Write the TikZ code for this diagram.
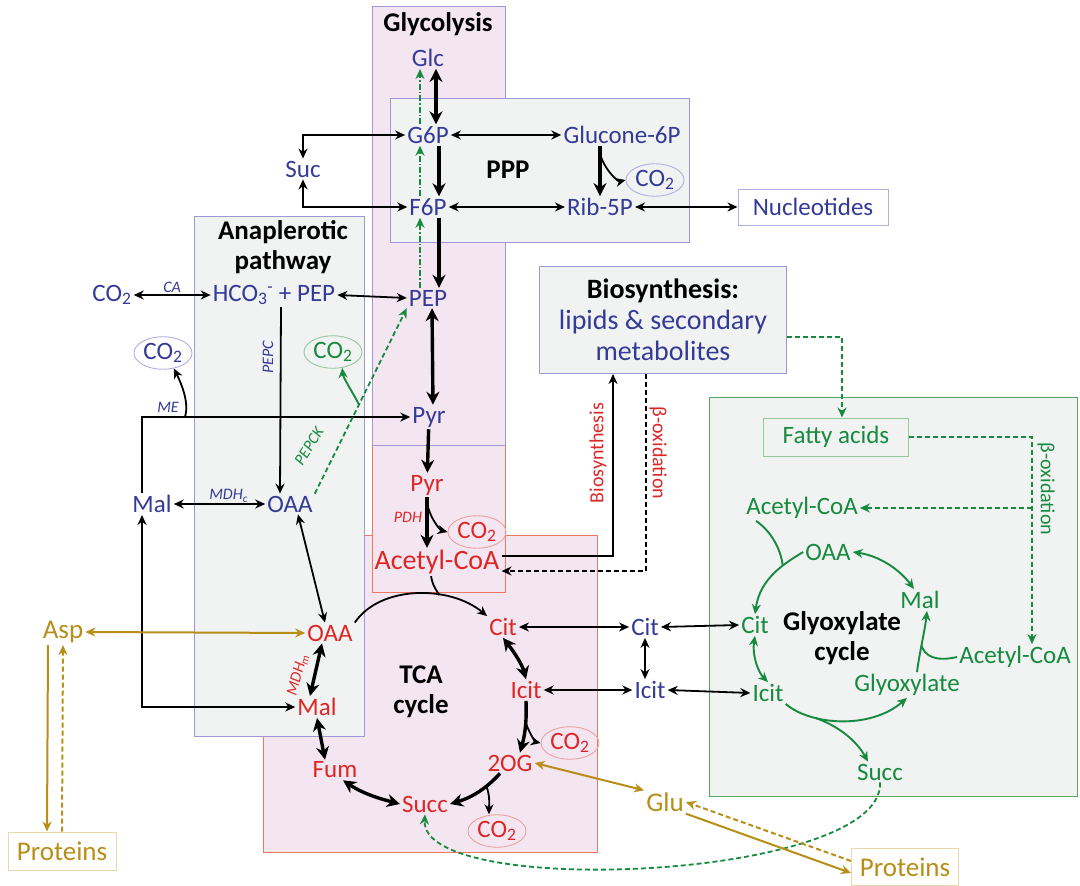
\documentclass[tikz,border=0pt]{standalone}
\usepackage{fontspec}
\setmainfont{Carlito}
\usepackage{tikz}
\usetikzlibrary{arrows.meta,shapes.geometric}

\definecolor{metblue}{RGB}{52,58,150}
\definecolor{metred}{RGB}{222,38,38}
\definecolor{metgreen}{RGB}{22,138,62}
\definecolor{metgold}{RGB}{184,142,24}
\definecolor{pinkfill}{RGB}{243,230,241}
\definecolor{greyfill}{RGB}{241,242,242}
\definecolor{purpline}{RGB}{160,150,215}
\definecolor{redline}{RGB}{236,120,100}
\definecolor{greenline}{RGB}{90,165,95}
\definecolor{lblue}{RGB}{175,175,225}
\definecolor{lgreen}{RGB}{150,200,160}
\definecolor{lred}{RGB}{240,160,160}
\definecolor{protline}{RGB}{235,215,170}

\begin{document}
\begin{tikzpicture}[%
    x=1pt, y=-1pt,
    >={Stealth[length=10pt,width=9pt]},
    met/.style={font=\fontsize{25}{29}\selectfont, inner sep=2pt},
    bm/.style={met, text=metblue},
    rm/.style={met, text=metred},
    gm/.style={met, text=metgreen},
    om/.style={met, text=metgold, font=\fontsize{27}{31}\selectfont},
    ttl/.style={font=\bfseries\fontsize{27}{30}\selectfont, align=center},
    enz/.style={font=\itshape\fontsize{16}{18}\selectfont, inner sep=1pt},
    vlab/.style={font=\fontsize{20}{22}\selectfont, inner sep=1pt},
    gas/.style={ellipse, draw, line width=0.9pt, inner xsep=1pt, inner ysep=1.5pt},
    bx/.style={draw, line width=1pt},
    ln/.style={line width=1.8pt},
    tk/.style={line width=3.4pt, >={Stealth[length=13pt,width=13pt]}},
    dsh/.style={dash pattern=on 5pt off 3pt},
    gln/.style={metgreen, line width=1.9pt},
    gdash/.style={metgreen, line width=1.8pt, dsh},
    gdd/.style={metgreen, line width=1.6pt, dash pattern=on 6pt off 2pt on 1.5pt off 2pt},
    oln/.style={metgold, line width=2pt},
  ]
    \useasboundingbox (0,0) rectangle (1080,886);

    % compartments
    \draw[bx, draw=redline, fill=pinkfill] (263,535) rectangle (597,852);
    \draw[bx, draw=redline, fill=pinkfill] (372,445) rectangle (505,592);
    \draw[bx, draw=purpline, fill=pinkfill] (372,6) rectangle (505,445);
    \draw[bx, draw=purpline, fill=greyfill] (390,98) rectangle (689,242);
    \draw[bx, draw=purpline, fill=greyfill] (194,216) rectangle (364,736);
    \draw[bx, draw=greenline, fill=greyfill] (709,397) rectangle (1077,796);

    % titles
    \node[ttl] (tglyc) at (438,24)  {Glycolysis};
    \node[ttl] (tppp)  at (508,170) {PPP};
    \node[ttl] (tana)  at (283,247) {Anaplerotic\\pathway};
    \node[ttl] (ttca)  at (421,692) {TCA\\cycle};
    \node[ttl] (tglx)  at (842,638) {Glyoxylate\\cycle};

    % glycolysis and PPP
    \node[bm] (glc)  at (428,58)  {Glc};
    \node[bm] (g6p)  at (428,135) {G6P};
    \node[bm] (f6p)  at (428,207) {F6P};
    \node[bm] (gl6p) at (622,135) {Glucone-6P};
    \node[bm] (rib)  at (600,207) {Rib-5P};
    \node[bm, gas, draw=lblue] (co2p) at (655,180) {CO\textsubscript{2}};
    \node[bm, bx, draw=lblue, fill=white, minimum width=150pt, minimum height=36pt]
        (nuc) at (813,207) {Nucleotides};
    \node[bm] (suc)  at (303,169) {Suc};
    \node[bm] (pep)  at (428,298) {PEP};
    \node[bm] (pyr)  at (429,417) {Pyr};

    % anaplerotic pathway
    \node[bm] (co2a) at (112,295) {CO\textsubscript{2}};
    \node[bm] (hco)  at (274,295) {HCO\textsubscript{3}\textsuperscript{-} + PEP};
    \node[bm, gas, draw=lblue] (co2me) at (163,353) {CO\textsubscript{2}};
    \node[gm, gas, draw=lgreen] (co2ck) at (333,352) {CO\textsubscript{2}};
    \node[bm] (malc) at (152,504) {Mal};
    \node[bm] (oaac) at (290,504) {OAA};

    % mitochondrion
    \node[rm] (pyrm) at (427,485) {Pyr};
    \node[rm, gas, draw=lred] (co2pdh) at (477,532) {CO\textsubscript{2}};
    \node[rm, font=\fontsize{28}{32}\selectfont] (acoa) at (437,562) {Acetyl-CoA};
    \node[rm] (oaa)  at (330,633) {OAA};
    \node[rm] (cit)  at (503,627) {Cit};
    \node[rm] (icit) at (526,690) {Icit};
    \node[rm] (og)   at (510,763) {2OG};
    \node[rm, gas, draw=lred] (co2og) at (570,743) {CO\textsubscript{2}};
    \node[rm] (succ) at (425,804) {Succ};
    \node[rm, gas, draw=lred] (co2su) at (497,831) {CO\textsubscript{2}};
    \node[rm] (fum)  at (335,770) {Fum};
    \node[rm] (mal)  at (317,707) {Mal};

    % cytosol
    \node[bm] (citc)  at (645,627) {Cit};
    \node[bm] (icitc) at (650,690) {Icit};
    \node[bx, draw=purpline, fill=greyfill, minimum width=247pt, minimum height=107pt,
        align=center, text=metblue, font=\fontsize{28}{31}\selectfont]
        (bio) at (663,320) {{\bfseries\color{black}Biosynthesis:}\\lipids \& secondary\\metabolites};

    % glyoxylate cycle
    \node[gm, bx, draw=lgreen, fill=greyfill, minimum width=145pt, minimum height=38pt]
        (fa) at (836,437) {Fatty acids};
    \node[gm] (acoag1) at (802,508)  {Acetyl-CoA};
    \node[gm] (oaag)   at (828,552)  {OAA};
    \node[gm] (malg)   at (920,600)  {Mal};
    \node[gm] (citg)   at (755,625)  {Cit};
    \node[gm] (icitg)  at (768,693)  {Icit};
    \node[gm] (glyox)  at (907,685)  {Glyoxylate};
    \node[gm] (acoag2) at (1015,657) {Acetyl-CoA};
    \node[gm] (succg)  at (880,772)  {Succ};

    % amino acids
    \node[om] (asp) at (63,632) {Asp};
    \node[om, bx, draw=protline, fill=white, minimum width=108pt, minimum height=38pt]
        (prot1) at (62,851) {Proteins};
    \node[om] (glu) at (665,802) {Glu};
    \node[om, bx, draw=protline, fill=white, minimum width=107pt, minimum height=37pt]
        (prot2) at (905,867) {Proteins};

    % enzyme and side labels
    \node[enz, text=metblue, rotate=90] (lpepc) at (268,357) {PEPC};
    \node[enz, text=metblue] (lme) at (168,407) {ME};
    \node[enz, text=metgreen, rotate=58] (lpepck) at (309,446) {PEPCK};
    \node[enz, text=metred] (lpdh) at (408,517) {PDH};
    \node[enz, text=metred, rotate=75] (lmdhm) at (298,675) {MDH\textsubscript{m}};
    \node[vlab, text=metred, rotate=90] (lbio) at (598,453) {Biosynthesis};
    \node[vlab, text=metred, rotate=-90] (lbox) at (658,453) {β-oxidation};
    \node[vlab, text=metgreen, rotate=-90] (lboxg) at (1046,489) {β-oxidation};

    % glycolysis
    \draw[tk,<->] ([xshift=8pt]glc.south) -- ([xshift=8pt]g6p.north);
    \draw[gdd,->] ([xshift=-8pt]g6p.north) -- ([xshift=-8pt]glc.south);
    \draw[tk,->] ([xshift=11pt]g6p.south) -- ([xshift=11pt]f6p.north);
    \draw[gdd,->] ([xshift=-8pt]f6p.north) -- ([xshift=-8pt]g6p.south);
    \draw[tk,->] ([xshift=11pt]f6p.south) -- ([xshift=11pt]pep.north);
    \draw[gdd,->] ([xshift=-8pt]pep.north) -- ([xshift=-8pt]f6p.south);
    \draw[tk,<->] ([xshift=4pt]pep.south) -- ([xshift=4pt]pyr.north);
    \draw[tk,->] (pyr) -- (pyrm);

    % PPP
    \draw[ln,<->] (g6p.east) -- (gl6p.west);
    \draw[ln,<->] (f6p.east) -- (rib.west);
    \draw[tk,->] (rib.north |- gl6p.south) -- coordinate[pos=0.15] (jgp) (rib.north);
    \draw[ln,->] (jgp) .. controls +(3,14) and +(-8,2) .. (co2p.west);
    \draw[ln,<->] (rib.east) -- (nuc.west);
    \draw[ln,<->] (suc.north) |- (g6p.west);
    \draw[ln,<->] (suc.south) |- (f6p.west);

    % anaplerotic pathway
    \draw[ln,<->] (co2a) -- node[enz, above, text=metblue] {CA} (hco);
    \draw[ln,<->] (pep.west) -- (hco.east);
    \draw[ln,->] ([xshift=7pt]hco.south) -- ([xshift=-10pt]oaac.north);
    \draw[ln,<->] (malc) -- node[enz, above, pos=0.6, text=metblue] {MDH\textsubscript{c}} (oaac);
    \draw[ln,->] ([xshift=-10pt]malc.north) |- coordinate[pos=0.58] (jme) (pyr.west);
    \draw[ln,->] (jme) .. controls +(5,-15) and +(6,12) .. (co2me.-55);
    \draw[gdash,->] (oaac.north east) -- coordinate[pos=0.48] (jck) (pep.south west);
    \draw[gln,->] (jck) .. controls +(-6,-12) and +(1,10) .. (co2ck.-60);
    \draw[ln,<->] ([xshift=-10pt]malc.south) |- (mal.west);
    \draw[ln,<->] ([xshift=8pt]oaac.south) -- ([xshift=-5pt]oaa.north);

    % pyruvate to acetyl-CoA
    \draw[tk,->] (pyrm.south) -- coordinate[pos=0.1] (jpdh) (pyrm.south |- acoa.north);
    \draw[ln,->] (jpdh) .. controls +(2,14) and +(-8,-2) .. (co2pdh.west);
    \draw[ln,->] ([yshift=6pt]acoa.east) -| ([xshift=-50pt]bio.south);
    \draw[ln,dsh,->] ([xshift=-17pt]bio.south) |- ([yshift=-9pt]acoa.east);

    % TCA cycle
    \draw[ln,->] (oaa.north east) .. controls (380,585) and (450,585) .. (cit.north west)
        coordinate[pos=0.65] (jtca);
    \draw[ln] ([xshift=-6pt]acoa.south) .. controls (433,585) .. (jtca);
    \draw[tk,<->] (cit.south) .. controls (514,652) and (522,664) .. (icit.north);
    \draw[tk,->] (icit.south) .. controls (527,725) and (524,738) .. ([xshift=10pt]og.north)
        coordinate[pos=0.35] (jog);
    \draw[ln,->] (jog) .. controls (530,735) and (536,742) .. (co2og.west);
    \draw[tk,->] ([xshift=-10pt]og.south) .. controls (485,790) and (470,798) .. (succ.east)
        coordinate[pos=0.3] (jsu);
    \draw[ln,->] (jsu) .. controls +(4,10) and +(0,-8) .. ([xshift=-8pt]co2su.north);
    \draw[tk,<->] ([xshift=8pt]fum.south) .. controls (365,795) and (385,800) .. (succ.west);
    \draw[tk,<->] (mal.south) -- ([xshift=-10pt]fum.north);
    \draw[tk,<->] ([xshift=-8pt]oaa.south) -- ([xshift=-7pt]mal.north);

    % exchange with cytosol
    \draw[ln,<->] (cit.east) -- (citc.west);
    \draw[ln,<->] (citc.east) -- (citg.west);
    \draw[ln,<->] (icit.east) -- (icitc.west);
    \draw[ln,<->] (icitc.east) -- (icitg.west);
    \draw[ln,<->] (citc.south) -- (citc.south |- icitc.north);

    % fatty acids
    \coordinate (fx) at ([xshift=17pt]acoag2.north);
    \draw[gdash,->] ([yshift=-17pt]bio.east) -| ([xshift=6pt]fa.north);
    \draw[gdash,->] (fa.east) -| (fx);
    \draw[gdash,->] (fx |- acoag1.east) -- (acoag1.east);

    % glyoxylate cycle
    \draw[gln,->] (oaag.west) .. controls (785,563) and (760,578) .. (citg.north)
        coordinate[pos=0.35] (jac);
    \draw[gln] ([xshift=12pt]acoag1.south west) .. controls (772,532) and (781,550) .. (jac);
    \draw[gln,<->] (oaag.east) .. controls (880,556) and (900,570) .. ([xshift=-6pt]malg.north);
    \draw[gln,<->] (citg.south) .. controls (752,655) and (758,672) .. (icitg.north);
    \draw[gln,->] (icitg.south east) .. controls (810,725) and (870,730) .. (glyox.south)
        coordinate[pos=0.3] (jgx);
    \draw[gln,->] (jgx) .. controls (838,726) and (856,740) .. ([xshift=-12pt]succg.north);
    \draw[gln,->] ([xshift=10pt]glyox.north) .. controls (919,655) and (925,630) .. ([xshift=7pt]malg.south)
        coordinate[pos=0.45] (jml);
    \draw[gln] (acoag2.west) .. controls (935,662) and (925,656) .. (jml);
    \draw[gdash,->] (succg.south) .. controls (885,880) and (420,900) .. (succ.south);

    % amino acids
    \draw[oln,<->] (asp.east) -- (oaa.west);
    \draw[oln,->] ([xshift=-15pt]asp.south) -- ([xshift=-15pt]prot1.north);
    \draw[oln,dsh,->] (prot1.north) -- (asp.south);
    \draw[oln,<->] (og.east) -- (glu.north west);
    \draw[oln,->] (glu.south east) -- ([yshift=-6pt]prot2.west);
    \draw[oln,dsh,->] ([yshift=6pt]prot2.west) -- (glu.east);
\end{tikzpicture}
\end{document}
